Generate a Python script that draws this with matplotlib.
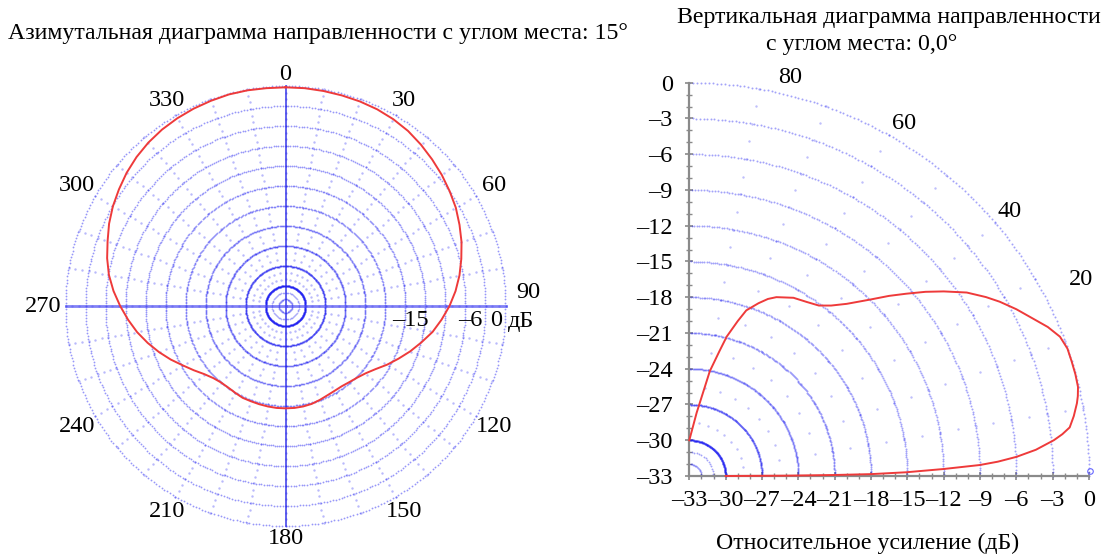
import numpy as np
import matplotlib
matplotlib.use("Agg")
import matplotlib.pyplot as plt
from matplotlib.transforms import offset_copy

plt.rcParams['font.family'] = ['Liberation Serif', 'DejaVu Serif']

# ---- data -------------------------------------------------------------
# Azimuth pattern at 15 deg elevation: azimuth (deg, clockwise from north), gain (dB)
az_deg = [0, 5, 10, 15, 20, 25, 30, 35, 40, 45, 50, 55, 60, 65, 70, 75, 80, 85,
          90, 95, 100, 105, 110, 115, 120, 125, 130, 135, 140, 145, 150, 155, 160, 165,
          170, 175, 180, 185, 190, 195, 200, 205, 210, 215, 220, 225, 230, 235, 240, 245,
          250, 255, 260, 265, 270, 275, 280, 285, 290, 295, 300, 305, 310, 315, 320, 325,
          330, 335, 340, 345, 350, 355]
az_gain_db = [-0.2, -0.2, -0.25, -0.3, -0.35, -0.45, -0.65, -0.95, -1.4, -1.9, -2.4, -2.95,
              -3.5, -4.2, -4.9, -5.7, -6.5, -7.4, -8.4, -9.5, -10.6, -11.9, -13.1, -14.3,
              -15.4, -16.5, -17.3, -17.8, -18.1, -18.3, -18.3, -18.2, -18.0, -17.8, -17.7,
              -17.65, -17.65, -17.65, -17.7, -17.75, -17.8, -17.8, -17.95, -18.05, -18.0,
              -17.7, -17.1, -16.2, -15.2, -14.0, -12.8, -11.6, -10.4, -9.3, -8.2, -7.1,
              -6.1, -5.3, -4.6, -3.8, -3.1, -2.5, -1.9, -1.4, -1.0, -0.7, -0.5, -0.35,
              -0.25, -0.15, -0.15, -0.2]

# Elevation pattern at 0 deg azimuth: elevation angle (deg), gain (dB)
el_deg = [0, 0.2, 0.4, 0.6, 1.0, 1.6, 2.2, 2.7, 3.4, 4.4, 5.7, 6.5, 7.4, 9.0, 10.8,
          11.8, 13.1, 15.0, 17.0, 18.9, 20.9, 22.9, 24.9, 27.4, 29.7, 31.5, 33.9, 36.4,
          38.4, 40.5, 42.5, 44.8, 48.0, 50.7, 53.2, 56.4, 60.1, 64.4, 66.4, 68.5, 71.3,
          72.9, 75.2, 76.6, 79.1, 83.5, 90]
el_gain_db = [-30, -25, -21.1, -18.0, -15.1, -12.0, -9.0, -7.5, -5.95, -4.3, -2.75, -2.0,
              -1.33, -0.86, -0.42, -0.23, -0.05, 0.0, 0.0, 0.0, -0.24, -0.87, -1.68, -2.59,
              -3.49, -4.27, -5.4, -6.9, -8.12, -9.45, -10.63, -12.0, -13.56, -14.52,
              -15.14, -15.47, -15.75, -16.36, -16.79, -17.42, -18.33, -19.4, -20.9, -22.2,
              -24.04, -27.67, -30]

# Grid levels (dB) and labels
db_floor = -33
fine_levels = [-32, -31]
ring_levels = [-30, -27, -24, -21, -18, -15, -12, -9, -6, -3, 0]
az_label_deg = [0, 30, 60, 90, 120, 150, 180, 210, 240, 270, 300, 330]
az_range_labels = [(-15, '–15'), (-6, '–6'), (0, '0')]
el_label_values = [80, 60, 40, 20]
el_label_pos_deg = [76, 59, 40, 27]
db_ticks = list(range(-33, 1, 3))

BLUE = (0.1, 0.1, 0.95)
RED = '#ee3a3a'
W, H = 1113, 556
FS_TICK = 17.5
FS_TITLE = 17.2

fig = plt.figure(figsize=(W / 100, H / 100), dpi=100)
fig.patch.set_facecolor('white')

# ---- left: azimuth polar diagram --------------------------------------
cx, cy, R = 285.5, 306, 220
axL = fig.add_axes([(cx - R) / W, (H - cy - R) / H, 2 * R / W, 2 * R / H],
                   projection='polar')
axL.set_theta_zero_location('N')
axL.set_theta_direction(-1)
axL.set_ylim(db_floor, 0)
axL.axis('off')

n_ring = 420
th_ring = np.linspace(0, 2 * np.pi, n_ring, endpoint=False)
for lev in ring_levels:
    axL.scatter(th_ring, np.full(n_ring, lev), s=1.7, color=BLUE, alpha=0.45,
                linewidths=0, clip_on=False, zorder=2)
th_fine = np.linspace(0, 2 * np.pi, 60, endpoint=False)
for lev in fine_levels:
    axL.scatter(th_fine, np.full(th_fine.size, lev), s=1.5, color=BLUE, alpha=0.35,
                linewidths=0, clip_on=False, zorder=2)

# sparse radial dot rows
for a in range(0, 360, 10):
    rr = np.arange(-30, 0.5, 1.0)
    axL.scatter(np.full(rr.size, np.radians(a)), rr, s=3.0, color=BLUE, alpha=0.3,
                linewidths=0, clip_on=False, zorder=2)

# main cross lines
for a in (0, 180):
    axL.plot([np.radians(a)] * 2, [db_floor, 0], color=(0.15, 0.15, 0.9), lw=1.2,
             alpha=0.85, clip_on=False, zorder=3)
for a in (90, 270):
    axL.plot([np.radians(a)] * 2, [db_floor, 0], color=(0.3, 0.3, 0.95), lw=2.0,
             alpha=0.7, clip_on=False, zorder=3)

th_az = np.radians(az_deg + [az_deg[0]])
axL.plot(th_az, az_gain_db + [az_gain_db[0]], color=RED, lw=1.4, zorder=5, clip_on=False)

for a in az_label_deg:
    rlab = 1.8 + 1.6 * abs(np.sin(np.radians(a)))
    tr = axL.transData
    if a == 90:
        tr = offset_copy(axL.transData, fig=fig, x=0, y=13, units='dots')
    axL.text(np.radians(a), rlab, str(a), ha='center', va='center', fontsize=FS_TICK,
             transform=tr, clip_on=False)

tr_below = offset_copy(axL.transData, fig=fig, x=0, y=-14, units='dots')
for lev, lab in az_range_labels:
    rpos = -1.4 if lev == 0 else lev + 0.7
    axL.text(np.radians(90), rpos, lab, ha='center', va='center', fontsize=FS_TICK,
             transform=tr_below, clip_on=False)
tr_unit = offset_copy(axL.transData, fig=fig, x=0, y=-15, units='dots')
axL.text(np.radians(90), 0.3, 'дБ', ha='left', va='center', fontsize=FS_TICK,
         transform=tr_unit, clip_on=False)

fig.text(8 / W, 1 - 33 / H, 'Азимутальная диаграмма направленности с углом места: 15°',
         ha='left', va='center', fontsize=FS_TITLE)

# ---- right: elevation quarter diagram ---------------------------------
x0, x1, y0, y1 = 689.3, 1089.0, 476.0, 82.7
axR = fig.add_axes([x0 / W, (H - y0) / H, (x1 - x0) / W, (y0 - y1) / H])
axR.set_xlim(db_floor, 0)
axR.set_ylim(db_floor, 0)
axR.set_facecolor('none')
for s in ('top', 'right'):
    axR.spines[s].set_visible(False)
for s in ('left', 'bottom'):
    axR.spines[s].set_color('#8a8a8a')
    axR.spines[s].set_linewidth(1.6)

n_q = 160
th_q = np.linspace(0, np.pi / 2, n_q)
for lev in ring_levels:
    rad = lev - db_floor
    axR.scatter(db_floor + rad * np.cos(th_q), db_floor + rad * np.sin(th_q), s=2.0,
                color=BLUE, alpha=0.4, linewidths=0, clip_on=False, zorder=2)
th_qf = np.linspace(0, np.pi / 2, 16)
for lev in fine_levels:
    rad = lev - db_floor
    axR.scatter(db_floor + rad * np.cos(th_qf), db_floor + rad * np.sin(th_qf), s=1.8,
                color=BLUE, alpha=0.4, linewidths=0, clip_on=False, zorder=2)
for a in range(10, 90, 10):
    rr = np.arange(3, 33.5, 1.5)
    axR.scatter(db_floor + rr * np.cos(np.radians(a)), db_floor + rr * np.sin(np.radians(a)),
                s=3.0, color=BLUE, alpha=0.28, linewidths=0, clip_on=False, zorder=2)

el_rad = np.radians(el_deg)
el_r = np.array(el_gain_db) - db_floor
axR.plot(db_floor + el_r * np.cos(el_rad), db_floor + el_r * np.sin(el_rad),
         color=RED, lw=1.4, zorder=5, clip_on=False)
axR.plot([0.1], [-32.6], marker='o', ms=4, mfc='none', mec=(0.4, 0.4, 1.0), mew=0.8,
         clip_on=False, zorder=4)

for val, pos in zip(el_label_values, el_label_pos_deg):
    rlab = 34.5 if val != 20 else 36.3
    axR.text(db_floor + rlab * np.cos(np.radians(pos)),
             db_floor + rlab * np.sin(np.radians(pos)), str(val),
             ha='center', va='center', fontsize=FS_TICK, clip_on=False)

axR.set_xticks(db_ticks)
axR.set_yticks(db_ticks)
axR.set_xticks(range(-33, 1), minor=True)
axR.set_yticks(range(-33, 1), minor=True)
tick_labels = [str(t).replace('-', '–') for t in db_ticks]
axR.set_xticklabels(tick_labels, fontsize=FS_TICK)
axR.set_yticklabels(tick_labels, fontsize=FS_TICK)
axR.tick_params(which='major', direction='inout', length=6, width=1.2, color='#8a8a8a')
axR.tick_params(which='minor', direction='inout', length=4, width=1.0, color='#8a8a8a')
axR.tick_params(axis='y', which='major', pad=9)
axR.tick_params(axis='x', which='major', pad=7)

fig.text(868 / W, 1 - 543 / H, 'Относительное усиление (дБ)', ha='center', va='center',
         fontsize=FS_TITLE)
fig.text(889 / W, 1 - 18 / H, 'Вертикальная диаграмма направленности', ha='center',
         va='center', fontsize=FS_TITLE)
fig.text(862 / W, 1 - 45 / H, 'с углом места: 0,0°', ha='center', va='center',
         fontsize=FS_TITLE)

fig.savefig('out.png', dpi=100, facecolor='white')
